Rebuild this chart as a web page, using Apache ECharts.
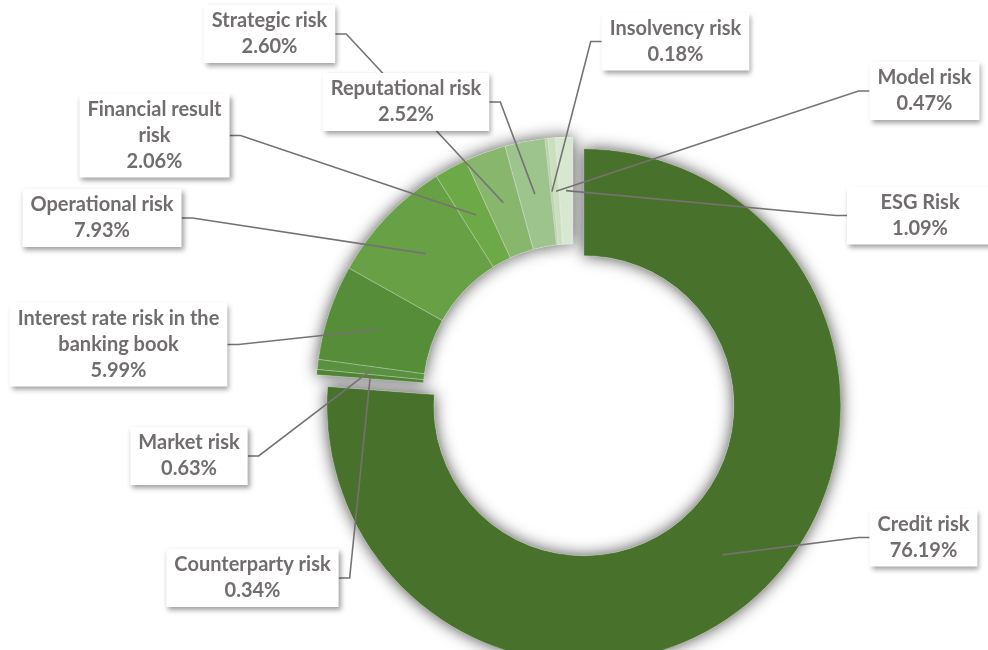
<!DOCTYPE html>
<html>
<head>
<meta charset="utf-8">
<script src="https://cdn.jsdelivr.net/npm/echarts@6.0.0/dist/echarts.min.js"></script>
<style>
html,body{margin:0;padding:0;background:#ffffff;}
#chart{width:988px;height:650px;}
</style>
</head>
<body>
<div id="chart"></div>
<script>
// ---- data ----
const categories = [
  'Credit risk',
  'Counterparty risk',
  'Market risk',
  'Interest rate risk in the banking book',
  'Operational risk',
  'Financial result risk',
  'Strategic risk',
  'Reputational risk',
  'Insolvency risk',
  'Model risk',
  'ESG Risk'
];
const values = [76.19, 0.34, 0.63, 5.99, 7.93, 2.06, 2.60, 2.52, 0.18, 0.47, 1.09];
const explodedIndex = 0;

// ---- styling / layout ----
const colors = ['#48722c', '#4f8434', '#5a9140', '#568d38', '#67a045', '#6ea947',
                '#88b66d', '#9ec48e', '#b6d3a6', '#c9dfbd', '#d8e7d0'];
const labelBoxCenters = [
  [923.5, 537.5], [252.5, 578], [189, 456], [118.5, 344.5], [102, 218], [154.5, 135.5],
  [269.5, 34], [406, 102], [675.5, 41.5], [924.5, 91], [920, 215.5]
];
const labelMinWidth = {'ESG Risk': 130};
const wrapMap = {
  'Financial result risk': 'Financial result\nrisk',
  'Interest rate risk in the banking book': 'Interest rate risk in the\nbanking book'
};
const CENTER = [573, 394];
const RADIUS = [150, 257];
const EXPLODE = 16;
const TEXT = '#716d6d';
const LINE = '#767272';

const chart = echarts.init(document.getElementById('chart'), null, {renderer: 'canvas'});

// explode offset for the separated slice (direction = its middle angle)
const total = values.reduce((a, b) => a + b, 0);
let before = 0;
for (let i = 0; i < explodedIndex; i++) before += values[i];
const midA = ((before + values[explodedIndex] / 2) / total) * Math.PI * 2; // clockwise from top
const explodedCenter = [CENTER[0] + EXPLODE * Math.sin(midA), CENTER[1] - EXPLODE * Math.cos(midA)];

const isExploded = i => i === explodedIndex;
const isOther = i => i !== explodedIndex;
const boxWidth = [];

function ringData(inGroup, mode) {
  return categories.map((name, i) => {
    const on = inGroup(i);
    const d = {name: name, value: values[i]};
    if (!on) d.itemStyle = {color: 'rgba(0,0,0,0)', shadowColor: 'rgba(0,0,0,0)', shadowBlur: 0};
    else if (mode === 'shadow') d.itemStyle = {color: '#ffffff'};
    else d.itemStyle = {color: colors[i], borderWidth: 0.7, borderColor: 'rgba(255,255,255,0.35)'};
    return d;
  });
}

function ringSeries(center, inGroup, mode, z) {
  return {
    type: 'pie', z: z,
    center: center, radius: RADIUS,
    startAngle: 90, clockwise: true,
    silent: true, animation: false,
    emphasis: {disabled: true},
    itemStyle: mode === 'shadow'
      ? {borderWidth: 0, shadowBlur: 16, shadowColor: 'rgba(0,0,0,0.7)', shadowOffsetX: 0, shadowOffsetY: 0}
      : {borderWidth: 0},
    label: {show: false}, labelLine: {show: false},
    data: ringData(inGroup, mode)
  };
}

function labelLayout(params) {
  const i = params.dataIndex;
  boxWidth[i] = params.labelRect.width;
  return {x: labelBoxCenters[i][0], y: labelBoxCenters[i][1], align: 'center', verticalAlign: 'middle'};
}

const labelSeries = {
  type: 'pie', z: 4,
  center: CENTER, radius: RADIUS,
  startAngle: 90, clockwise: true,
  silent: true, animation: false, avoidLabelOverlap: false,
  emphasis: {disabled: true},
  itemStyle: {color: 'rgba(0,0,0,0)', borderWidth: 0},
  label: {
    show: true,
    position: 'outside',
    formatter: p => (wrapMap[p.name] || p.name) + '\n' + Number(p.value).toFixed(2) + '%',
    color: TEXT,
    fontFamily: 'Lato',
    fontWeight: 'bold',
    fontSize: 20,
    lineHeight: 26,
    align: 'center',
    backgroundColor: '#ffffff',
    padding: [3, 8, 3, 8],
    shadowColor: 'rgba(0,0,0,0.38)',
    shadowBlur: 5,
    shadowOffsetX: 2,
    shadowOffsetY: 3
  },
  labelLine: {show: false},
  labelLayout: labelLayout,
  data: categories.map((name, i) => {
    const d = {name: name, value: values[i]};
    if (labelMinWidth[name]) d.label = {width: labelMinWidth[name]};
    return d;
  })
};

chart.setOption({
  backgroundColor: '#ffffff',
  animation: false,
  series: [
    ringSeries(explodedCenter, isExploded, 'shadow', 1),
    ringSeries(CENTER, isOther, 'shadow', 1),
    ringSeries(explodedCenter, isExploded, 'color', 2),
    ringSeries(CENTER, isOther, 'color', 2),
    labelSeries
  ]
});

// leader lines: from the middle of each ring slice (library layout) to its label box
const model = chart.getModel();
const elements = categories.map((name, i) => {
  const sIdx = isExploded(i) ? 2 : 3;
  const lay = model.getSeriesByIndex(sIdx).getData().getItemLayout(i);
  const mid = (lay.startAngle + lay.endAngle) / 2;
  const rm = (lay.r + lay.r0) / 2;
  const ax = lay.cx + Math.cos(mid) * rm;
  const ay = lay.cy + Math.sin(mid) * rm;
  const bx = labelBoxCenters[i][0], by = labelBoxCenters[i][1];
  const w = boxWidth[i] || 120;
  const leftSide = ax < bx;
  const sideX = leftSide ? bx - w / 2 : bx + w / 2;
  const elbowX = leftSide ? sideX - 11 : sideX + 11;
  return {
    type: 'polyline', z: 3, silent: true,
    shape: {points: [[ax, ay], [elbowX, by], [sideX, by]]},
    style: {stroke: LINE, lineWidth: 1.6, fill: null}
  };
});
chart.setOption({graphic: {elements: elements}});
</script>
</body>
</html>
